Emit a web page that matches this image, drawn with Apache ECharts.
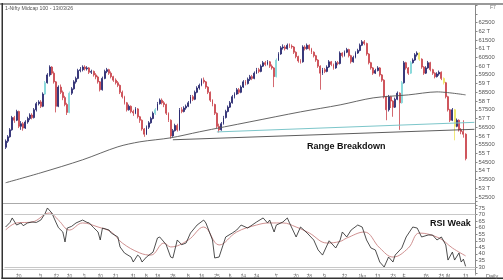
<!DOCTYPE html>
<html><head><meta charset="utf-8">
<script src="https://cdn.jsdelivr.net/npm/echarts@6/dist/echarts.min.js"></script>
<style>html,body{margin:0;padding:0;background:#fff}#c{width:503px;height:280px}</style>
</head><body><div id="c"></div>
<script>
// ---- data ----
const lastDate = '2026-03-13';
const holidays = ['2025-08-15','2025-08-27','2025-10-02','2025-10-21','2025-10-22','2025-11-05','2025-12-25','2026-01-15','2026-01-26','2026-03-03'];
const padDays = 4;
// [open, close, low, high]
const ohlc = [
[55350,55700,55250,55800],[55700,55950,55600,56050],[55950,56350,55900,56450],[56350,57050,56300,57150],[57050,56900,56750,57150],[56900,57400,56850,57500],[57400,56550,56450,57450],[56550,56700,56350,56850],[56700,56450,56300,56800],[56450,56800,56400,56900],
[56800,57000,56700,57100],[57000,57200,56900,57300],[57200,57050,56950,57300],[57050,57500,57000,57600],[57500,57850,57400,57950],[57850,57950,57750,58050],[57950,57700,57600,58050],[57700,58400,57650,58500],[58400,59050,58350,59150],[59050,59500,59000,59600],
[59500,59950,59400,60050],[59950,59600,59500,60000],[59600,59100,59000,59700],[59100,57700,57350,59150],[57700,58800,57650,58900],[58800,58500,58400,58950],[58500,58200,58050,58600],[58200,57800,57700,58300],[57800,57350,57200,57900],[57350,58450,57300,58550],
[58450,58700,58350,58800],[58700,59100,58650,59200],[59100,59300,59000,59400],[59300,59750,59250,59850],[59750,59800,59650,59950],[59800,59950,59700,60050],[59950,59850,59750,60050],[59850,59900,59750,60000],[59900,59650,59550,59950],[59650,59700,59550,59800],
[59700,59500,59400,59750],[59500,59380,59250,59600],[59380,59100,59000,59450],[59100,58650,58550,59150],[58650,59300,58600,59400],[59300,59700,59250,59800],[59700,59800,59600,59900],[59800,59600,59500,59850],[59600,59400,59300,59700],[59400,59200,59100,59450],
[59200,59050,58950,59300],[59050,58900,58800,59150],[58900,58500,58400,58950],[58500,58250,58150,58600],[58250,57900,57800,58300],[57900,57500,57400,57950],[57500,57700,57450,57800],[57700,57400,57300,57750],[57400,57320,57150,57500],[57320,57550,57250,57650],
[57550,57100,57000,57600],[57100,56900,56750,57150],[56900,56400,56300,56950],[56400,56100,55950,56450],[56100,56500,56050,56600],[56500,56750,56400,56850],[56750,57000,56700,57100],[57000,57300,56950,57400],[57300,57500,57200,57600],[57500,57850,57450,57950],
[57850,58050,57800,58150],[58050,57900,57800,58150],[57900,57800,57650,58000],[57800,57300,57200,57850],[57300,56900,56800,57350],[56900,56000,55850,56950],[56000,56300,55950,56400],[56300,56600,56250,56700],[56600,56350,56250,56700],[56350,57500,56300,57600],
[57500,57400,57300,57650],[57400,57600,57350,57700],[57600,57700,57500,57800],[57700,57900,57650,58000],[57900,58250,57850,58350],[58250,58100,58000,58350],[58100,58500,58050,58600],[58500,58750,58450,58850],[58750,58900,58650,59000],[58900,59200,58850,59300],
[59200,59100,59000,59350],[59100,58800,58700,59150],[58800,58500,58400,58850],[58500,58050,57950,58550],[58050,57800,57700,58100],[57800,57300,57200,57850],[57300,56550,56450,57350],[56550,56350,56200,56700],[56350,56700,56300,56800],[56700,57050,56650,57150],
[57050,57400,57000,57500],[57400,57650,57350,57750],[57650,57900,57600,58000],[57900,58250,57850,58350],[58250,58400,58150,58500],[58400,58650,58350,58750],[58650,58500,58400,58750],[58500,58800,58450,58900],[58800,59100,58750,59200],[59100,59000,58900,59200],
[59000,59250,58950,59350],[59250,59400,59150,59500],[59400,59300,59200,59500],[59300,59600,59250,59700],[59600,59800,59550,59900],[59800,59700,59600,59900],[59700,60000,59650,60100],[60000,60200,59950,60300],[60200,60100,60000,60300],[60100,60250,60050,60350],
[60250,60000,59900,60300],[60000,59900,59800,60100],[59900,59400,58800,59950],[59400,60350,59350,60450],[60350,60700,60300,60800],[60700,61050,60650,61150],[61050,61100,60950,61250],[61100,61000,60900,61200],[61000,61200,60950,61300],[61200,61150,61050,61300],
[61150,61100,61000,61250],[61100,60800,60700,61150],[60800,60550,60450,60850],[60550,60300,60200,60600],[60300,60250,60150,60400],[60250,61100,60200,61200],[61100,61000,60900,61200],[61000,61200,60950,61300],[61200,61000,60900,61250],[61000,60800,60700,61050],
[60800,60600,60500,60850],[60600,60350,60250,60650],[60350,60000,59900,60400],[60000,59600,58650,60050],[59600,59800,59500,59900],[59800,59700,59600,59900],[59700,59950,59650,60050],[59950,60250,59900,60350],[60250,60100,60000,60300],[60100,59900,59800,60150],
[59900,60200,59850,60300],[60200,60150,60050,60300],[60150,60750,60100,60850],[60750,60600,60500,60800],[60600,60800,60550,60900],[60800,60950,60750,61050],[60950,60600,60500,61000],[60600,60250,60150,60650],[60250,60500,60200,60600],[60500,60750,60450,60850],
[60750,60900,60700,61000],[60900,61200,60850,61300],[61200,61400,61150,61500],[61400,61300,61200,61500],[61300,60700,60600,61350],[60700,60200,60100,60750],[60200,59900,59800,60250],[59900,59600,59500,59950],[59600,59750,59550,59850],[59750,59900,59700,60000],
[59900,59500,59400,59950],[59500,59200,59100,59550],[59200,58250,58150,59250],[58250,57500,56900,58300],[57500,58250,57400,58350],[58250,58000,57600,58300],[58000,57650,57100,58050],[57650,58100,57600,58200],[58100,58450,58050,58550],[58450,57900,56350,58500],
[57900,59050,57850,59150],[59050,60200,59000,60300],[60200,59900,59800,60250],[59900,59600,59500,59950],[59600,60200,59550,60300],[60200,60350,60150,60450],[60350,60650,60300,60750],[60650,60750,60550,60850],[60750,60400,60300,60800],[60400,59950,59850,60450],
[59950,59600,59500,60000],[59600,59900,59550,60000],[59900,60200,59850,60300],[60200,59800,59700,60250],[59800,59600,59500,59850],[59600,59400,59300,59650],[59400,59550,59350,59650],[59550,59650,59450,59750],[59650,59300,59200,59700],[59300,59050,58950,59350],
[59050,58250,58150,59100],[58250,57500,57400,58300],[57500,56900,56800,57550],[56900,57500,56850,57600],[57500,56550,55750,57550],[56550,56900,56500,57000],[56900,56350,56250,56950],[56350,56250,56100,56450],[56250,56100,55900,56900],[56100,54700,54600,56150]
];
const cyanBars = [18, 29, 68, 123, 180, 184];
const yellowBars = [188, 199, 204];
// 200-day moving average, read at points [candle index, value]
const ma200 = [[0,53314],[16,53887],[35,54631],[51,55376],[61,55662],[75,55891],[88,56235],[111,56808],[134,57380],[152,57781],[167,58182],[183,58354],[196,58526],[209,58354]];
// trend lines [candle index, price]
const supportLine = [[76,55780],[213,56380]];
const tealLine = [[96,56230],[213,56780]];
// RSI read points [index, value]
const rsi = [[0,60.5],[2,64],[3,67.4],[5,62],[7,63.6],[8,61.5],[10,63.6],[12,64.3],[14,64],[16,65.8],[18,71],[19,75],[21,71.2],[23,63.6],[24,60],[26,56.7],[27,49.1],[28,59.7],[30,61],[32,63.6],[35,65.8],[37,64],[38,63.6],[40,60],[42,56.7],[43,50.6],[44,59.7],[47,58.2],[48,55.9],[51,52.9],[52,45.3],[54,40.7],[57,37.6],[58,33.8],[60,39.1],[61,37.6],[62,33.8],[64,37.6],[67,41.4],[69,52.1],[70,52.9],[72,49],[73,46.8],[75,37.6],[76,36.9],[78,50.6],[80,47],[82,48.3],[84,55.9],[87,62],[90,65.8],[91,63.6],[94,50.6],[95,36.9],[97,37.6],[100,52.9],[103,55.9],[105,58.2],[107,62],[110,59.7],[112,62],[114,64.3],[117,67.4],[119,63.6],[120,65.8],[122,56.7],[123,62],[126,64.3],[128,67.4],[129,63.6],[132,52.9],[134,60.5],[137,55.9],[140,50.6],[142,43],[144,39.1],[147,50],[150,44.5],[152,50.6],[153,56.7],[155,52.9],[157,58.2],[160,62],[162,60.5],[164,50.6],[166,44.5],[168,43],[170,33.8],[172,30],[174,37.6],[176,33.8],[177,39.1],[180,44.5],[182,52.9],[185,60.5],[187,59.7],[189,52.9],[192,54.4],[194,54.4],[196,50.6],[198,52.9],[200,46.8],[201,35.3],[203,41.4],[204,35.3],[206,40.7],[207,33.8],[208,36],[209,30.5]];
const rsiSignal = [[0,58.2],[5,63.6],[12,64.3],[20,71.2],[24,65.8],[29,58.2],[35,63.6],[42,60.5],[48,56.7],[53,48.3],[61,40.7],[66,39.1],[72,48.3],[75,45.3],[83,50.6],[90,60.5],[97,46.8],[105,56.7],[114,62],[120,63.6],[126,63.6],[132,60.5],[138,55.9],[146,48.3],[152,49.5],[155,52.1],[163,56.7],[170,44.5],[176,37.6],[183,44.5],[188,55.9],[197,52.1],[203,44.5],[209,38.5]];
const rsiLevels = [70, 30];
const tickDates = ['2025-05-20','2025-06-03','2025-06-12','2025-06-20','2025-07-01','2025-07-10','2025-07-21','2025-07-31','2025-08-08','2025-08-18','2025-08-28','2025-09-08','2025-09-16','2025-09-25','2025-10-06','2025-10-14','2025-10-24','2025-11-07','2025-11-20','2025-11-28','2025-12-09','2025-12-22','2026-01-02','2026-01-13','2026-01-23','2026-02-02','2026-02-16','2026-02-25','2026-03-02','2026-03-13'];
const tickTexts = ['20','3','12','20','1','10','21','31','8','18','28','8','16','25','6','14','24','7','20','28','9','22','Jan','13','23','F','16','25','M','13'];
const titleText = '1-Nifty Midcap 100 - 13/03/26';

// ---- categories (trading days) ----
function iso(t){return new Date(t).toISOString().slice(0,10);}
const DAY = 86400000;
const cats = [];
(function(){
  const hs = new Set(holidays);
  let t = Date.parse(lastDate + 'T00:00:00Z');
  while (cats.length < ohlc.length) {
    const wd = new Date(t).getUTCDay();
    const s = iso(t);
    if (wd !== 0 && wd !== 6 && !hs.has(s)) cats.unshift(s);
    t -= DAY;
  }
  t = Date.parse(lastDate + 'T00:00:00Z') + DAY;
  let added = 0;
  while (added < padDays) {
    const wd = new Date(t).getUTCDay();
    if (wd !== 0 && wd !== 6) { cats.push(iso(t)); added++; }
    t += DAY;
  }
})();
const tickMap = {};
tickDates.forEach((d,i)=>{tickMap[d]=tickTexts[i];});
const lastClose = ohlc[ohlc.length-1][1];

const candleData = ohlc.map((r,i)=>{
  if (cyanBars.includes(i)) return {value:r, itemStyle:{color:'#7fd6d8',color0:'#7fd6d8',borderColor:'#7fd6d8',borderColor0:'#7fd6d8'}};
  if (yellowBars.includes(i)) return {value:r, itemStyle:{color:'#ece35c',color0:'#ece35c',borderColor:'#ece35c',borderColor0:'#ece35c'}};
  return r;
});

const FONT = 'Liberation Sans, Arial, sans-serif';
const chart = echarts.init(document.getElementById('c'), null, {renderer:'canvas'});
chart.setOption({
  animation:false,
  backgroundColor:'#fff',
  grid:[
    {left:4.5, top:5.14, width:471, height:200.55},
    {left:4.5, top:201.44, width:471, height:72.12}
  ],
  xAxis:[
    {type:'category', gridIndex:0, data:cats, boundaryGap:true, axisLine:{show:false}, axisTick:{show:false}, axisLabel:{show:false}, splitLine:{show:false}},
    {type:'category', gridIndex:1, data:cats, boundaryGap:true, axisLine:{show:false},
      axisTick:{show:true, length:2, interval:(i,v)=>tickMap[v]!==undefined, lineStyle:{color:'#aaa'}},
      axisLabel:{show:true, interval:(i,v)=>tickMap[v]!==undefined, formatter:v=>tickMap[v]||'', fontSize:5, color:'#777', margin:1, fontFamily:FONT},
      splitLine:{show:false}}
  ],
  yAxis:[
    {type:'value', gridIndex:0, position:'right', min:52000, max:63500, interval:500,
      axisLine:{show:true, lineStyle:{color:'#888'}}, axisTick:{show:true, length:2, lineStyle:{color:'#888'}}, splitLine:{show:false},
      axisLabel:{fontSize:5.8, color:'#555', margin:3, fontFamily:FONT,
        formatter:v=>(v>62500||v<52500)?'':(v%1000===0?(v/1000)+' T':String(v))}},
    {type:'value', gridIndex:1, position:'right', min:25, max:80, interval:5,
      axisLine:{show:true, lineStyle:{color:'#888'}}, axisTick:{show:true, length:2, lineStyle:{color:'#888'}}, splitLine:{show:false},
      axisLabel:{fontSize:5.8, color:'#555', margin:3, fontFamily:FONT, formatter:v=>(v>75||v<30)?'':String(v)}}
  ],
  series:[
    {type:'candlestick', xAxisIndex:0, yAxisIndex:0, data:candleData, barWidth:1.4,
      itemStyle:{color:'#23236c', color0:'#c9434b', borderColor:'#23236c', borderColor0:'#c9434b', borderWidth:0.8},
      markLine:{symbol:'none', silent:true, animation:false, label:{show:false},
        data:[
          [{coord:supportLine[0], lineStyle:{color:'#333', width:0.8, type:'solid'}}, {coord:supportLine[1]}],
          [{coord:tealLine[0], lineStyle:{color:'#7cc6ca', width:1, type:'solid'}}, {coord:tealLine[1]}],
          {yAxis:lastClose, lineStyle:{opacity:0},
            label:{show:true, position:'end', distance:1, formatter:String(lastClose), backgroundColor:'#111', color:'#fff', fontSize:5.8, padding:[1,2], fontFamily:FONT}}
        ]}},
    {type:'line', xAxisIndex:0, yAxisIndex:0, data:ma200, showSymbol:false, smooth:0.3, lineStyle:{color:'#555', width:0.9}},
    {type:'line', xAxisIndex:1, yAxisIndex:1, data:rsiSignal, showSymbol:false, smooth:0.4, lineStyle:{color:'#c98585', width:0.9},
      markLine:{symbol:'none', silent:true, label:{show:false}, lineStyle:{color:'#c8c8c8', width:1, type:'solid'},
        data:rsiLevels.map(v=>({yAxis:v}))}},
    {type:'line', xAxisIndex:1, yAxisIndex:1, data:rsi, showSymbol:false, lineStyle:{color:'#222', width:0.8}}
  ],
  graphic:[
    {type:'rect', shape:{x:0, y:3, width:503, height:2}, style:{fill:'#999'}, silent:true},
    {type:'rect', shape:{x:1.5, y:3, width:1.5, height:276}, style:{fill:'#333'}, silent:true},
    {type:'rect', shape:{x:1.5, y:277.5, width:501.5, height:1.5}, style:{fill:'#333'}, silent:true},
    {type:'line', shape:{x1:3, y1:203.5, x2:475.5, y2:203.5}, style:{stroke:'#aaa', lineWidth:1}, silent:true},
    {type:'line', shape:{x1:3, y1:269.5, x2:475.5, y2:269.5}, style:{stroke:'#ccc', lineWidth:1}, silent:true},
    {type:'text', left:5, top:6, style:{text:titleText, font:'5.2px '+FONT, fill:'#555'}},
    {type:'text', left:490, top:5, style:{text:'F7', font:'5px '+FONT, fill:'#777'}},
    {type:'text', left:307, top:142, style:{text:'Range Breakdown', font:'bold 9px '+FONT, fill:'#111'}},
    {type:'text', left:430, top:219, style:{text:'RSI Weak', font:'bold 9px '+FONT, fill:'#111'}},
    {type:'text', left:486, top:273, style:{text:'Daily', font:'5.5px '+FONT, fill:'#666'}}
  ]
});
</script></body></html>
